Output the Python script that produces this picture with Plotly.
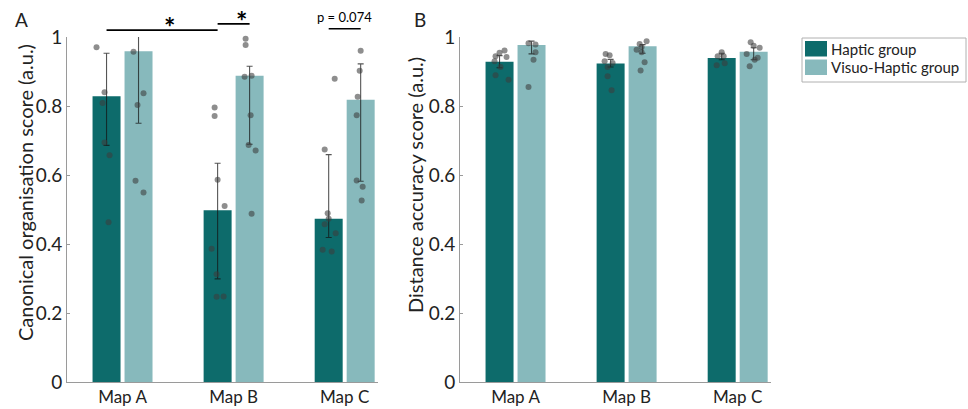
import plotly.graph_objects as go

W, H = 968, 409

maps = ["Map A", "Map B", "Map C"]
groups = ["Haptic group", "Visuo-Haptic group"]
y_ticks = [0, 0.2, 0.4, 0.6, 0.8, 1]
y_ticktext = ["0", "0.2", "0.4", "0.6", "0.8", "1"]

# ---- Panel A: canonical organisation score ----
a_haptic_mean = [0.828, 0.498, 0.473]
a_haptic_hi = [0.953, 0.634, 0.659]
a_haptic_lo = [0.686, 0.299, 0.419]
a_visuo_mean = [0.959, 0.888, 0.818]
a_visuo_hi = [1.006, 0.915, 0.922]
a_visuo_lo = [0.750, 0.689, 0.582]

a_haptic_dots = [
    [1.003, 0.970, 0.840, 0.809, 0.694, 0.657, 0.463],
    [0.796, 0.771, 0.586, 0.510, 0.386, 0.312, 0.247, 0.248],
    [0.879, 0.674, 0.489, 0.473, 0.457, 0.431, 0.383, 0.378],
]
a_visuo_dots = [
    [1.003, 1.003, 0.957, 0.837, 0.803, 0.583, 0.549],
    [0.995, 0.977, 0.885, 0.888, 0.773, 0.687, 0.671, 0.488],
    [1.001, 0.960, 0.902, 0.827, 0.773, 0.584, 0.566, 0.526],
]

# ---- Panel B: distance accuracy score ----
b_haptic_mean = [0.928, 0.923, 0.939]
b_haptic_hi = [0.946, 0.935, 0.953]
b_haptic_lo = [0.911, 0.913, 0.934]
b_visuo_mean = [0.977, 0.973, 0.957]
b_visuo_hi = [0.988, 0.978, 0.969]
b_visuo_lo = [0.951, 0.953, 0.934]

b_haptic_dots = [
    [0.944, 0.954, 0.961, 0.942, 0.930, 0.913, 0.889, 0.876],
    [0.951, 0.947, 0.930, 0.925, 0.913, 0.886, 0.846],
    [0.956, 0.944, 0.944, 0.918, 0.924],
]
b_visuo_dots = [
    [1.001, 1.001, 0.982, 0.978, 0.956, 0.934, 0.855],
    [0.988, 0.980, 0.971, 0.963, 0.956, 0.927, 0.903],
    [0.985, 0.975, 0.969, 0.951, 0.940, 0.934, 0.915],
]

# significance annotations (panel A): text and bracket heights (score units)
sig_text = ["*", "*", "p = 0.074"]
sig_level = [1.020, 1.038, 1.024]

# ---- horizontal jitter of the dots (pixels, style only) ----
a_haptic_jit = [[-9, -10, -2, -4, -2, 3, 2], [-3, -3, 0, 7, -6, -1, -1, 6], [6, -4, -1, 0, -4, 7, -6, 3]]
a_visuo_jit = [[-4, 5, -5, 5, -1, -3, 5], [-4, -4, -5, 2, 1, -1, 6, 2], [4, 0, -1, -3, -4, -4, 2, 1]]
b_haptic_jit = [[-4, 0, 5, 7, -5, 1, -4, 9], [-5, -1, -6, 2, -3, -3, 1], [0, -4, 2, -5, 3]]
b_visuo_jit = [[-6, 5, -3, 4, 4, 2, -3], [4, -3, -1, -6, -1, 2, -2], [-3, 0, 6, -7, 4, 1, -4]]

# ---- style ----
FONT = "Lato"
C_DARK = "#0d6b6b"
C_LIGHT = "#87b9bc"
DOT = "rgba(60,60,60,0.58)"
ERR = "rgba(20,20,20,0.72)"
AXC = "#9a9a9a"
TXT = "#222222"
BARGAP = 0.424
BARGROUPGAP = 0.125
OFF = (1 - BARGAP) / 4          # centre offset of each bar within a group
PX_PER_UNIT = 111.0
XR = [0.5, 3.3]
YR = [0, 1]

xpos = [1, 2, 3]

def px_x(px):
    return px / W

def px_y(py):
    return 1 - py / H

XDOM_A = [px_x(67), px_x(378)]
XDOM_B = [px_x(460), px_x(771)]
YDOM = [px_y(382), px_y(37)]

def data_to_paper(xv, yv, xdom):
    px = xdom[0] + (xv - XR[0]) / (XR[1] - XR[0]) * (xdom[1] - xdom[0])
    py = YDOM[0] + (yv - YR[0]) / (YR[1] - YR[0]) * (YDOM[1] - YDOM[0])
    return px, py

fig = go.Figure()

def add_panel(xa, ya, h_mean, h_hi, h_lo, v_mean, v_hi, v_lo, h_dots, v_dots, h_jit, v_jit):
    for name, mean, hi, lo, col in [
        (groups[0], h_mean, h_hi, h_lo, C_DARK),
        (groups[1], v_mean, v_hi, v_lo, C_LIGHT),
    ]:
        fig.add_trace(go.Bar(
            x=xpos, y=mean, name=name, marker=dict(color=col, line=dict(width=0)),
            error_y=dict(type="data", symmetric=False,
                         array=[h - m for h, m in zip(hi, mean)],
                         arrayminus=[m - l for m, l in zip(mean, lo)],
                         color=ERR, thickness=1.1, width=3),
            xaxis=xa, yaxis=ya, showlegend=False, cliponaxis=False,
        ))
    for dots, jit, side in [(h_dots, h_jit, -1), (v_dots, v_jit, 1)]:
        xs, ys = [], []
        for i, (vals, js) in enumerate(zip(dots, jit)):
            for v, j in zip(vals, js):
                xs.append(xpos[i] + side * OFF + j / PX_PER_UNIT)
                ys.append(v)
        fig.add_trace(go.Scatter(
            x=xs, y=ys, mode="markers", marker=dict(color=DOT, size=6, line=dict(width=0)),
            xaxis=xa, yaxis=ya, showlegend=False, cliponaxis=False, hoverinfo="y",
        ))

add_panel("x", "y", a_haptic_mean, a_haptic_hi, a_haptic_lo, a_visuo_mean, a_visuo_hi, a_visuo_lo,
          a_haptic_dots, a_visuo_dots, a_haptic_jit, a_visuo_jit)
add_panel("x2", "y2", b_haptic_mean, b_haptic_hi, b_haptic_lo, b_visuo_mean, b_visuo_hi, b_visuo_lo,
          b_haptic_dots, b_visuo_dots, b_haptic_jit, b_visuo_jit)

xaxis_common = dict(range=XR, tickvals=xpos, ticktext=maps, showline=True, linecolor=AXC,
                    linewidth=1, ticks="", showgrid=False, zeroline=False, automargin=False,
                    tickfont=dict(family=FONT, size=17, color=TXT), fixedrange=True)
yaxis_common = dict(range=YR, tickvals=y_ticks, ticktext=y_ticktext, showline=True,
                    linecolor=AXC, linewidth=1, ticks="inside", ticklen=3, tickcolor=AXC,
                    showgrid=False, zeroline=False, domain=YDOM, automargin=False,
                    tickfont=dict(family=FONT, size=19, color=TXT), fixedrange=True)

fig.update_layout(
    width=W, height=H, margin=dict(l=0, r=0, t=0, b=0, pad=0, autoexpand=False),
    paper_bgcolor="white", plot_bgcolor="white",
    barmode="group", bargap=BARGAP, bargroupgap=BARGROUPGAP,
    showlegend=False,
    xaxis=dict(domain=XDOM_A, anchor="y", **xaxis_common),
    yaxis=dict(anchor="x", **yaxis_common),
    xaxis2=dict(domain=XDOM_B, anchor="y2", **xaxis_common),
    yaxis2=dict(anchor="x2", **yaxis_common),
    font=dict(family=FONT, color=TXT),
)

# significance brackets (panel A), placed in paper coordinates from the data scale
sig_spans = [
    (xpos[0] - OFF, xpos[1] - OFF),
    (xpos[1] - OFF, xpos[1] + OFF),
    (xpos[2] - OFF, xpos[2] + OFF),
]
for (x0, x1), yv, t in zip(sig_spans, sig_level, sig_text):
    p0x, py = data_to_paper(x0, yv, XDOM_A)
    p1x, _ = data_to_paper(x1, yv, XDOM_A)
    fig.add_shape(type="line", xref="paper", yref="paper", x0=p0x, x1=p1x, y0=py, y1=py,
                  line=dict(color="black", width=1.6))
    big = t == "*"
    fig.add_annotation(xref="paper", yref="paper", x=(p0x + p1x) / 2, y=py,
                       text="<b>*</b>" if big else t,
                       showarrow=False, yanchor="bottom", yshift=-15 if big else 2,
                       font=dict(family=FONT, size=27 if big else 13, color="black"))

# axis titles and panel letters
fig.add_annotation(xref="paper", yref="paper", x=px_x(25), y=px_y(193),
                   text="Canonical organisation score (a.u.)", textangle=-90, showarrow=False,
                   xanchor="center", yanchor="middle", font=dict(family=FONT, size=20, color=TXT))
fig.add_annotation(xref="paper", yref="paper", x=px_x(415), y=px_y(185),
                   text="Distance accuracy score (a.u.)", textangle=-90, showarrow=False,
                   xanchor="center", yanchor="middle", font=dict(family=FONT, size=20, color=TXT))
fig.add_annotation(xref="paper", yref="paper", x=px_x(21), y=px_y(19), text="A", showarrow=False,
                   xanchor="center", yanchor="middle", font=dict(family=FONT, size=19, color=TXT))
fig.add_annotation(xref="paper", yref="paper", x=px_x(420), y=px_y(19), text="B", showarrow=False,
                   xanchor="center", yanchor="middle", font=dict(family=FONT, size=19, color=TXT))

# legend (custom box)
fig.add_shape(type="rect", xref="paper", yref="paper", x0=px_x(802), x1=px_x(966),
              y0=px_y(82), y1=px_y(38), line=dict(color="#b0b0b0", width=1), fillcolor="white")
for i, (g, col) in enumerate(zip(groups, [C_DARK, C_LIGHT])):
    top = 41 + i * 18.5
    fig.add_shape(type="rect", xref="paper", yref="paper", x0=px_x(805), x1=px_x(827),
                  y0=px_y(top + 15.5), y1=px_y(top), line=dict(width=0), fillcolor=col)
    fig.add_annotation(xref="paper", yref="paper", x=px_x(829), y=px_y(top + 8), text=g,
                       showarrow=False, xanchor="left", yanchor="middle",
                       font=dict(family=FONT, size=15, color=TXT))

fig.write_html("out.html")
